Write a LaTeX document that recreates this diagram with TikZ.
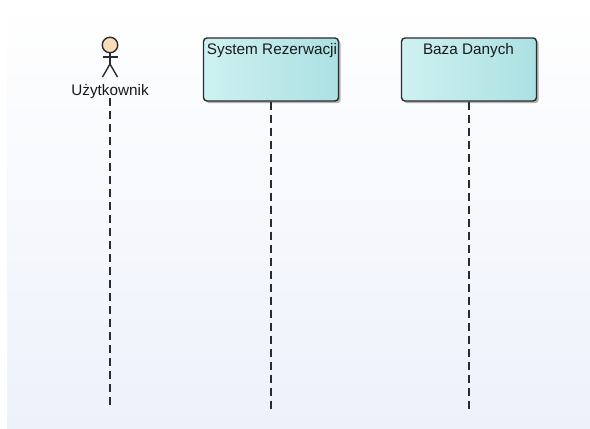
\documentclass[tikz,border=0pt]{standalone}
\usepackage{fontspec}
\setmainfont{Liberation Sans}
\usetikzlibrary{shadows, calc, positioning}
\definecolor{boxleft}{HTML}{CFF0F0}
\definecolor{boxright}{HTML}{ABE1E3}
\definecolor{panelbottom}{HTML}{EDF1FA}
\definecolor{linedark}{HTML}{2A2A30}
\definecolor{headfill}{HTML}{F8DDB8}
\tikzset{
    objectbox/.style={draw=linedark, line width=1.4pt, rounded corners=3.5pt, left color=boxleft, right color=boxright,
        minimum width=135pt, minimum height=63pt, inner sep=0pt,
        general shadow={shadow xshift=2.2pt, shadow yshift=-2.2pt, fill=gray!60}},
    lifeline/.style={draw=linedark, line width=1.6pt, dash pattern=on 8pt off 5pt},
    stickline/.style={draw=linedark, line width=1.4pt},
    boxlabel/.style={font=\fontsize{15.3}{18}\selectfont, text=black!90, inner sep=0pt}
}
\begin{document}
\begin{tikzpicture}[x=1pt, y=-1pt]
    % Invisible bounding box for the page size
    \path[use as bounding box] (0,0) rectangle (590,429);
    % Background panel
    \shade[top color=white, bottom color=panelbottom] (7,0) rectangle (590,429);

    % Create objects
    \node[objectbox] (system) at (271,69.5) {};
    \node[objectbox] (baza) at (469,69.5) {};
    \node[boxlabel, anchor=base] (systemlabel) at (272,54) {System Rezerwacji};
    \node[boxlabel, anchor=base] (bazalabel) at (468.5,54) {Baza Danych};

    % Actor
    \node[circle, stickline, fill=headfill, minimum size=15.5pt, inner sep=0pt] (head) at (110,45) {};
    \coordinate (hip) at (110,64);
    \coordinate (armleft) at (102.5,57);
    \coordinate (armright) at (117.5,57);
    \coordinate (footleft) at (102.5,77);
    \coordinate (footright) at (117.5,77);
    \draw[stickline] (head) -- (hip);
    \draw[stickline] (armleft) -- (armright);
    \draw[stickline] (footleft) -- (hip) -- (footright);
    \node[boxlabel, anchor=base] (user) at (110,95) {Użytkownik};

    % Lifelines
    \coordinate (userend) at (110,406);
    \coordinate (systemend) at (271,409);
    \coordinate (bazaend) at (469,409);
    \draw[lifeline] (user.south) -- (userend);
    \draw[lifeline] (system.south) -- (systemend);
    \draw[lifeline] (baza.south) -- (bazaend);
\end{tikzpicture}
\end{document}
